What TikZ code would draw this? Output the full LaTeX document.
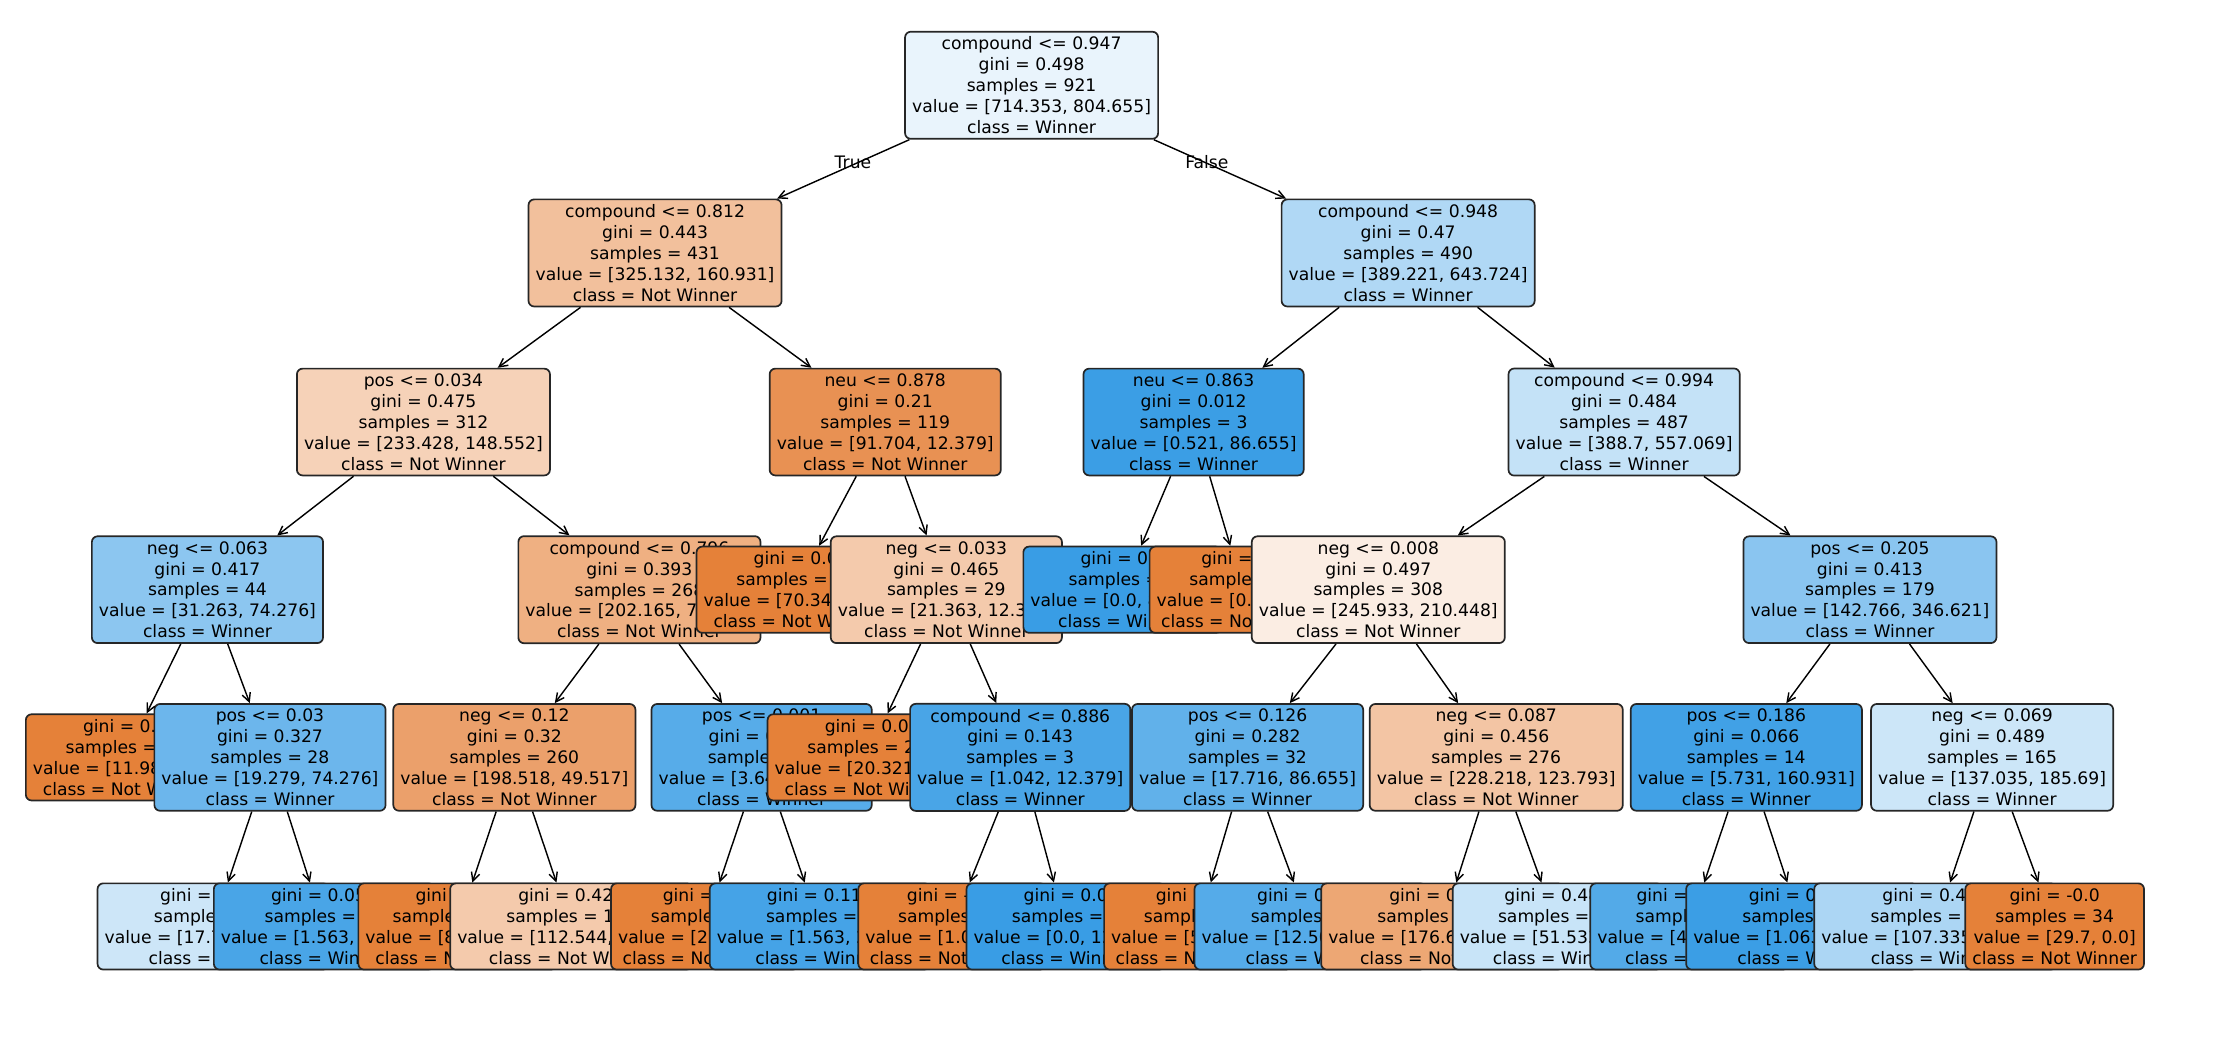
\documentclass[tikz,border=0pt]{standalone}
\usepackage{fontspec}
\setmainfont{DejaVu Sans}
\usetikzlibrary{arrows.meta}
\definecolor{orng}{HTML}{E58139}
\definecolor{blu}{HTML}{399DE5}
\begin{document}
\begin{tikzpicture}
  [x=0.5pt,y=-0.5pt
  ,tnode/.style={draw=black!85,line width=0.6pt,rounded corners=2pt,align=center,
     inner xsep=2.5pt,inner ysep=1.8pt,font=\fontsize{6.05}{7.35}\selectfont}
  ,edge/.style={-{Straight Barb[length=3pt,width=3pt]},line width=0.5pt}
  ]
  \useasboundingbox (0,0) rectangle (1568,730);

  % level 0
  \node[tnode,fill=blu!11] (root) at (726,60) {compound <= 0.947\\gini = 0.498\\samples = 921\\value = [714.353, 804.655]\\class = Winner};

  % level 1
  \node[tnode,fill=orng!50] (a) at (461,178) {compound <= 0.812\\gini = 0.443\\samples = 431\\value = [325.132, 160.931]\\class = Not Winner};
  \node[tnode,fill=blu!40] (b) at (991,178) {compound <= 0.948\\gini = 0.47\\samples = 490\\value = [389.221, 643.724]\\class = Winner};

  % level 2
  \node[tnode,fill=orng!36] (aa) at (298,297) {pos <= 0.034\\gini = 0.475\\samples = 312\\value = [233.428, 148.552]\\class = Not Winner};
  \node[tnode,fill=orng!87] (ab) at (623,297) {neu <= 0.878\\gini = 0.21\\samples = 119\\value = [91.704, 12.379]\\class = Not Winner};
  \node[tnode,fill=blu!99] (ba) at (840,297) {neu <= 0.863\\gini = 0.012\\samples = 3\\value = [0.521, 86.655]\\class = Winner};
  \node[tnode,fill=blu!30] (bb) at (1143,297) {compound <= 0.994\\gini = 0.484\\samples = 487\\value = [388.7, 557.069]\\class = Winner};

  % level 3
  \node[tnode,fill=blu!58] (aaa) at (146,415) {neg <= 0.063\\gini = 0.417\\samples = 44\\value = [31.263, 74.276]\\class = Winner};
  \node[tnode,fill=orng!63] (aab) at (450,415) {compound <= 0.796\\gini = 0.393\\samples = 268\\value = [202.165, 74.276]\\class = Not Winner};
  \node[tnode,fill=orng] (aba) at (560,415) {gini = 0.0\\samples = 90\\value = [70.341, 0.0]\\class = Not Winner};
  \node[tnode,fill=orng!42] (abb) at (666,415) {neg <= 0.033\\gini = 0.465\\samples = 29\\value = [21.363, 12.379]\\class = Not Winner};
  \node[tnode,fill=blu] (baa) at (790,415) {gini = 0.0\\samples = 2\\value = [0.0, 86.655]\\class = Winner};
  \node[tnode,fill=orng] (bab) at (875,415) {gini = 0.0\\samples = 1\\value = [0.521, 0.0]\\class = Not Winner};
  \node[tnode,fill=orng!14] (bba) at (970,415) {neg <= 0.008\\gini = 0.497\\samples = 308\\value = [245.933, 210.448]\\class = Not Winner};
  \node[tnode,fill=blu!59] (bbb) at (1316,415) {pos <= 0.205\\gini = 0.413\\samples = 179\\value = [142.766, 346.621]\\class = Winner};

  % level 4
  \node[tnode,fill=orng] (aaaa) at (88,533) {gini = 0.0\\samples = 16\\value = [11.984, 0.0]\\class = Not Winner};
  \node[tnode,fill=blu!74] (aaab) at (190,533) {pos <= 0.03\\gini = 0.327\\samples = 28\\value = [19.279, 74.276]\\class = Winner};
  \node[tnode,fill=orng!75] (aaba) at (362,533) {neg <= 0.12\\gini = 0.32\\samples = 260\\value = [198.518, 49.517]\\class = Not Winner};
  \node[tnode,fill=blu!85] (aabb) at (536,533) {pos <= 0.001\\gini = 0.224\\samples = 8\\value = [3.647, 24.759]\\class = Winner};
  \node[tnode,fill=orng] (abba) at (610,533) {gini = 0.0\\samples = 26\\value = [20.321, 0.0]\\class = Not Winner};
  \node[tnode,fill=blu!92] (abbb) at (718,533) {compound <= 0.886\\gini = 0.143\\samples = 3\\value = [1.042, 12.379]\\class = Winner};
  \node[tnode,fill=blu!80] (bbaa) at (878,533) {pos <= 0.126\\gini = 0.282\\samples = 32\\value = [17.716, 86.655]\\class = Winner};
  \node[tnode,fill=orng!46] (bbab) at (1053,533) {neg <= 0.087\\gini = 0.456\\samples = 276\\value = [228.218, 123.793]\\class = Not Winner};
  \node[tnode,fill=blu!96] (bbba) at (1229,533) {pos <= 0.186\\gini = 0.066\\samples = 14\\value = [5.731, 160.931]\\class = Winner};
  \node[tnode,fill=blu!26] (bbbb) at (1402,533) {neg <= 0.069\\gini = 0.489\\samples = 165\\value = [137.035, 185.69]\\class = Winner};

  % level 5
  \node[tnode,fill=blu!25] (l1) at (150,652) {gini = 0.493\\samples = 10\\value = [17.716, 22.475]\\class = Winner};
  \node[tnode,fill=blu!92] (l2) at (228,652) {gini = 0.057\\samples = 18\\value = [1.563, 51.801]\\class = Winner};
  \node[tnode,fill=orng] (l3) at (322,652) {gini = 0.0\\samples = 100\\value = [85.974, 0.0]\\class = Not Winner};
  \node[tnode,fill=orng!42] (l4) at (402,652) {gini = 0.424\\samples = 160\\value = [112.544, 49.517]\\class = Not Winner};
  \node[tnode,fill=orng] (l5) at (496,652) {gini = 0.0\\samples = 3\\value = [2.084, 0.0]\\class = Not Winner};
  \node[tnode,fill=blu!94] (l6) at (577,652) {gini = 0.112\\samples = 5\\value = [1.563, 24.759]\\class = Winner};
  \node[tnode,fill=orng] (l7) at (670,652) {gini = -0.0\\samples = 1\\value = [1.042, 0.0]\\class = Not Winner};
  \node[tnode,fill=blu] (l8) at (750,652) {gini = 0.0\\samples = 2\\value = [0.0, 12.379]\\class = Winner};
  \node[tnode,fill=orng] (l9) at (843,652) {gini = 0.0\\samples = 4\\value = [5.209, 0.0]\\class = Not Winner};
  \node[tnode,fill=blu!86] (l10) at (922,652) {gini = 0.221\\samples = 28\\value = [12.507, 86.655]\\class = Winner};
  \node[tnode,fill=orng!70] (l11) at (1015,652) {gini = 0.352\\samples = 240\\value = [176.685, 52.193]\\class = Not Winner};
  \node[tnode,fill=blu!28] (l12) at (1096,652) {gini = 0.487\\samples = 36\\value = [51.533, 71.6]\\class = Winner};
  \node[tnode,fill=blu!87] (l13) at (1189,652) {gini = 0.207\\samples = 4\\value = [4.668, 35.1]\\class = Winner};
  \node[tnode,fill=blu!99] (l14) at (1268,652) {gini = 0.017\\samples = 10\\value = [1.063, 125.831]\\class = Winner};
  \node[tnode,fill=blu!42] (l15) at (1362,652) {gini = 0.464\\samples = 131\\value = [107.335, 185.69]\\class = Winner};
  \node[tnode,fill=orng] (l16) at (1446,652) {gini = -0.0\\samples = 34\\value = [29.7, 0.0]\\class = Not Winner};

  % edges
  \draw[edge] (root) -- (a) node[pos=0.62,above right=-1pt,font=\fontsize{6.05}{7}\selectfont] {True};
  \draw[edge] (root) -- (b) node[pos=0.62,above left=-1pt,font=\fontsize{6.05}{7}\selectfont] {False};
  \foreach \p/\c in {a/aa,a/ab,b/ba,b/bb,aa/aaa,aa/aab,ab/aba,ab/abb,ba/baa,ba/bab,bb/bba,bb/bbb,
      aaa/aaaa,aaa/aaab,aab/aaba,aab/aabb,abb/abba,abb/abbb,bba/bbaa,bba/bbab,bbb/bbba,bbb/bbbb,
      aaab/l1,aaab/l2,aaba/l3,aaba/l4,aabb/l5,aabb/l6,abbb/l7,abbb/l8,
      bbaa/l9,bbaa/l10,bbab/l11,bbab/l12,bbba/l13,bbba/l14,bbbb/l15,bbbb/l16}
    \draw[edge] (\p) -- (\c);

\end{tikzpicture}
\end{document}
